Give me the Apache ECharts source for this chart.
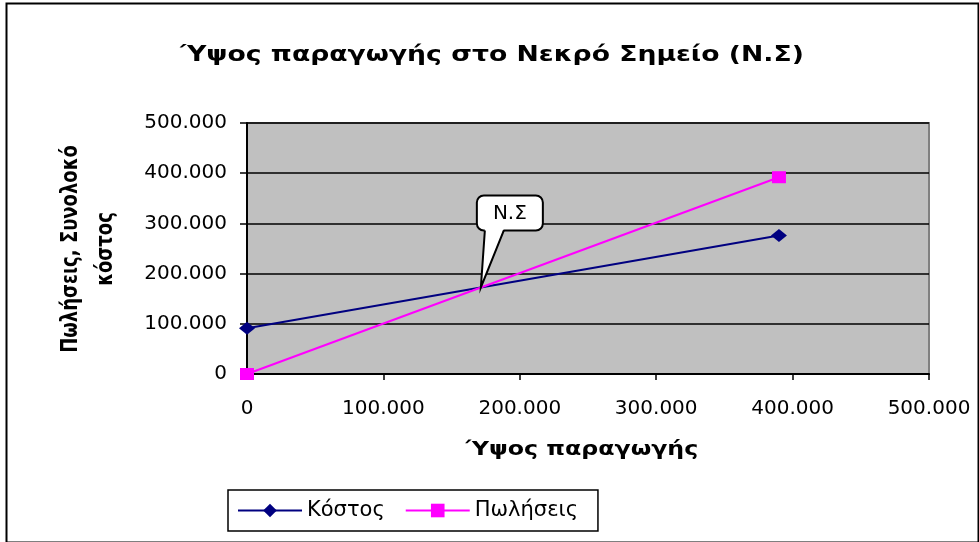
<!DOCTYPE html>
<html><head><meta charset="utf-8">
<script src="https://cdn.jsdelivr.net/npm/echarts@6/dist/echarts.min.js"></script>
<style>html,body{margin:0;padding:0;background:#fff}#c{width:979px;height:542px}</style>
</head><body><div id="c"></div>
<script>
var titleText = 'Ύψος παραγωγής στο Νεκρό Σημείο (Ν.Σ)';
var xName = 'Ύψος παραγωγής';
var yName = 'Πωλήσεις, Συνολοκό\nκόστος';
var seriesNames = ['Κόστος', 'Πωλήσεις'];
var costData = [[0, 91000], [390000, 276000]];
var salesData = [[0, 0], [390000, 392000]];
var calloutText = 'Ν.Σ';

function fmt(v){ return String(v).replace(/\B(?=(\d{3})+(?!\d))/g, '.'); }

// break-even point: intersection of the two straight series
function intersect(a, b){
  var s1 = (a[1][1] - a[0][1]) / (a[1][0] - a[0][0]);
  var s2 = (b[1][1] - b[0][1]) / (b[1][0] - b[0][0]);
  var c1 = a[0][1] - s1 * a[0][0], c2 = b[0][1] - s2 * b[0][0];
  var x = (c2 - c1) / (s1 - s2);
  return [x, s1 * x + c1];
}
var breakEven = intersect(costData, salesData);

var chart = echarts.init(document.getElementById('c'));
var font = 'DejaVu Sans, sans-serif';
chart.setOption({
  animation: false,
  backgroundColor: '#fff',
  grid: { left: 247, right: 50, top: 123, bottom: 168, show: true, backgroundColor: '#C0C0C0', borderColor: '#808080', borderWidth: 2 },
  xAxis: { type: 'value', min: 0, max: 500000, interval: 100000,
    axisLine: { show: true, onZero: false, lineStyle: { color: '#000', width: 2 } },
    axisTick: { show: true, length: 6, lineStyle: { color: '#000', width: 1.5 } },
    axisLabel: { formatter: fmt, fontFamily: font, fontSize: 20, color: '#000', margin: 25 },
    splitLine: { show: false } },
  yAxis: { type: 'value', min: 0, max: 500000, interval: 100000,
    axisLine: { show: true, onZero: false, lineStyle: { color: '#000', width: 2 } },
    axisTick: { show: true, length: 7, lineStyle: { color: '#000', width: 1.5 } },
    axisLabel: { formatter: fmt, fontFamily: font, fontSize: 20, color: '#000', margin: 20 },
    splitLine: { show: true, lineStyle: { color: '#000', width: 1.5 } } },
  legend: { left: 228, top: 490, orient: 'horizontal', itemWidth: 64, itemHeight: 17, itemGap: 20,
    borderColor: '#000', borderWidth: 1.5, padding: [10, 20, 10, 9], borderRadius: 0,
    textStyle: { fontFamily: font, fontSize: 21, color: '#000' },
    data: seriesNames },
  series: [
    { name: seriesNames[0], type: 'line', data: costData, symbol: 'diamond', symbolSize: [16, 13],
      lineStyle: { color: '#000080', width: 2 }, itemStyle: { color: '#000080' } },
    { name: seriesNames[1], type: 'line', data: salesData, symbol: 'rect', symbolSize: [14, 12],
      lineStyle: { color: '#FF00FF', width: 2 }, itemStyle: { color: '#FF00FF' } }
  ]
});

var p = chart.convertToPixel({ xAxisIndex: 0, yAxisIndex: 0 }, breakEven);
var px = p[0], py = p[1];
var L = px - 4, T = py - 92, W = 66, H = 35;
chart.setOption({ graphic: [
  { type: 'rect', left: 4, top: 1, shape: { width: 972, height: 539 }, style: { fill: 'none', stroke: '#000', lineWidth: 2 }, silent: true },
  { type: 'text', x: 492, y: 56, scaleX: 1.3, z: 50,
    style: { text: titleText, fontFamily: font, fontWeight: 'bold', fontSize: 20.5, fill: '#000', align: 'center', verticalAlign: 'middle' } },
  { type: 'text', x: 582, y: 450, scaleX: 1.28, z: 50,
    style: { text: xName, fontFamily: font, fontWeight: 'bold', fontSize: 18.5, fill: '#000', align: 'center', verticalAlign: 'middle' } },
  { type: 'text', x: 88, y: 249, rotation: Math.PI / 2, scaleY: 1.3, z: 50,
    style: { text: yName, fontFamily: font, fontWeight: 'bold', fontSize: 18, lineHeight: 27, fill: '#000', align: 'center', verticalAlign: 'middle' } },
  { type: 'rect', shape: { x: L, y: T, width: W, height: H, r: 7 }, style: { fill: '#fff', stroke: '#000', lineWidth: 2 }, z: 100 },
  { type: 'polygon', shape: { points: [[L + 8, T + H - 2], [px, py], [L + 27, T + H - 2]] }, style: { fill: '#fff', stroke: null }, z: 101 },
  { type: 'polyline', shape: { points: [[L + 8, T + H], [px, py], [L + 27, T + H]] }, style: { fill: null, stroke: '#000', lineWidth: 2 }, z: 102 },
  { type: 'text', x: L + W / 2, y: T + H / 2 + 1, z: 103,
    style: { text: calloutText, fontFamily: font, fontSize: 20, fill: '#000', align: 'center', verticalAlign: 'middle' } }
] });
</script></body></html>
